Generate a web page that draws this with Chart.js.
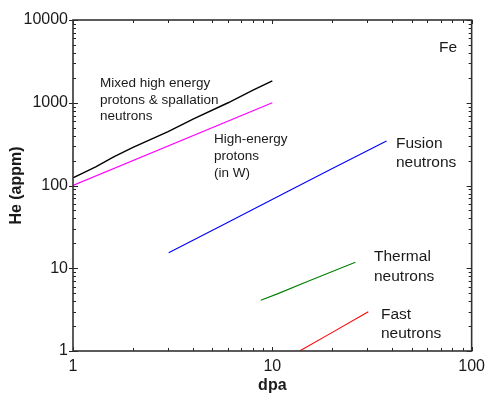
<!DOCTYPE html>
<html>
<head>
<meta charset="utf-8">
<script src="https://cdn.jsdelivr.net/npm/chart.js@4"></script>
<style>
  body { margin: 0; background: #fff; }
  canvas { display: block; }
</style>
</head>
<body>
<canvas id="heChart" width="491" height="395"></canvas>
<script>
// Axis ticks (log decades + minor steps)
const xMajor = [1, 10, 100];
const yMajor = [1, 10, 100, 1000, 10000];
const minorSteps = [2, 3, 4, 5, 6, 7, 8, 9];

// Series (dpa, He appm)
const mixedDpa = [1, 1.1, 1.3, 1.6, 2, 3, 4, 6, 8, 10];
const mixedHe = [124, 138, 168, 222, 288, 448, 635, 1000, 1420, 1840];
const protonDpa = [1, 10];
const protonHe = [100, 1000];
const fusionDpa = [3.02, 6, 12, 20, 37.4];
const fusionHe = [15.4, 36, 85, 160, 345];
const thermalDpa = [8.75, 10.6, 15, 26.1];
const thermalHe = [4.1, 4.9, 6.9, 11.8];
const fastDpa = [13.7, 20, 30.3];
const fastHe = [1, 1.68, 2.98];

const colors = ['#000000', '#ff00ff', '#0000ff', '#008000', '#ff0000'];

function pts(xs, ys) {
  return xs.map((x, i) => ({ x, y: ys[i] }));
}

function withMinors(major) {
  const out = [];
  major.forEach((m, i) => {
    out.push(m);
    if (i < major.length - 1) minorSteps.forEach(s => out.push(m * s));
  });
  return out;
}

function isMajor(v) {
  const l = Math.log10(v);
  return Math.abs(l - Math.round(l)) < 1e-9;
}

// Texts drawn next to the lines
const notes = [
  { lines: ['Mixed high energy', 'protons & spallation', 'neutrons'], x: 100, y: 87, step: 16.7, size: 13.5 },
  { lines: ['High-energy', 'protons', '(in W)'], x: 214, y: 143, step: 17, size: 13.5 },
  { lines: ['Fusion', 'neutrons'], x: 396, y: 147.5, step: 19.5, size: 15.5 },
  { lines: ['Thermal', 'neutrons'], x: 374, y: 261, step: 19.5, size: 15.5 },
  { lines: ['Fast', 'neutrons'], x: 381, y: 318.5, step: 19.5, size: 15.5 },
  { lines: ['Fe'], x: 439, y: 52, step: 0, size: 15.5 }
];

const fontFam = '"Liberation Sans", Arial, sans-serif';

const frameTicks = {
  id: 'frameTicks',
  afterDraw(chart) {
    const { ctx, chartArea: a, scales: { x, y } } = chart;
    ctx.save();
    ctx.strokeStyle = '#222';
    ctx.lineWidth = 1;
    const seg = (x1, y1, x2, y2) => {
      ctx.beginPath(); ctx.moveTo(x1, y1); ctx.lineTo(x2, y2); ctx.stroke();
    };
    withMinors(xMajor).forEach(v => {
      const px = Math.round(x.getPixelForValue(v)) + 0.5;
      const len = isMajor(v) ? 4 : 3;
      seg(px, a.bottom, px, a.bottom - len);
      seg(px, a.top, px, a.top + len);
    });
    withMinors(yMajor).forEach(v => {
      const py = Math.round(y.getPixelForValue(v)) + 0.5;
      if (isMajor(v)) {
        seg(a.left - 4, py, a.left + 5, py);
        seg(a.right - 5, py, a.right, py);
      } else {
        seg(a.left, py, a.left + 3, py);
        seg(a.right - 3, py, a.right, py);
      }
    });
    ctx.strokeStyle = '#333';
    ctx.lineWidth = 1.6;
    ctx.strokeRect(a.left, a.top, a.right - a.left, a.bottom - a.top);

    ctx.fillStyle = '#1a1a1a';
    ctx.textBaseline = 'alphabetic';
    ctx.textAlign = 'left';
    notes.forEach(n => {
      ctx.font = n.size + 'px ' + fontFam;
      n.lines.forEach((s, i) => ctx.fillText(s, n.x, n.y + i * n.step));
    });
    ctx.restore();
  }
};

const series = [
  [mixedDpa, mixedHe, 1.4],
  [protonDpa, protonHe, 1.2],
  [fusionDpa, fusionHe, 1.1],
  [thermalDpa, thermalHe, 1.1],
  [fastDpa, fastHe, 1.1]
];

new Chart(document.getElementById('heChart'), {
  type: 'scatter',
  data: {
    datasets: series.map((s, i) => ({
      data: pts(s[0], s[1]),
      showLine: true,
      borderColor: colors[i],
      backgroundColor: colors[i],
      borderWidth: s[2],
      pointRadius: 0,
      tension: 0
    }))
  },
  options: {
    responsive: false,
    animation: false,
    layout: { padding: { top: 20, right: 14, left: 0, bottom: 0 } },
    plugins: { legend: { display: false }, tooltip: { enabled: false } },
    scales: {
      x: {
        type: 'logarithmic',
        min: 1,
        max: 100,
        afterBuildTicks: s => { s.ticks = xMajor.map(v => ({ value: v })); },
        afterFit: s => { s.height = 44; },
        grid: { display: false, drawTicks: false },
        border: { display: false },
        ticks: {
          autoSkip: false,
          maxRotation: 0,
          padding: 6,
          color: '#1a1a1a',
          font: { family: fontFam, size: 16 },
          callback: v => String(v)
        },
        title: {
          display: true,
          text: 'dpa',
          color: '#1a1a1a',
          padding: 0,
          font: { family: fontFam, size: 16, weight: 'bold' }
        }
      },
      y: {
        type: 'logarithmic',
        min: 1,
        max: 10000,
        afterBuildTicks: s => { s.ticks = yMajor.map(v => ({ value: v })); },
        afterFit: s => { s.width = 73; },
        grid: { display: false, drawTicks: false },
        border: { display: false },
        ticks: {
          autoSkip: false,
          padding: 5,
          color: '#1a1a1a',
          font: { family: fontFam, size: 16 },
          callback: v => String(v)
        },
        title: {
          display: true,
          text: 'He (appm)',
          color: '#1a1a1a',
          padding: { top: 7, bottom: 0 },
          font: { family: fontFam, size: 16, weight: 'bold' }
        }
      }
    }
  },
  plugins: [frameTicks]
});
</script>
</body>
</html>
